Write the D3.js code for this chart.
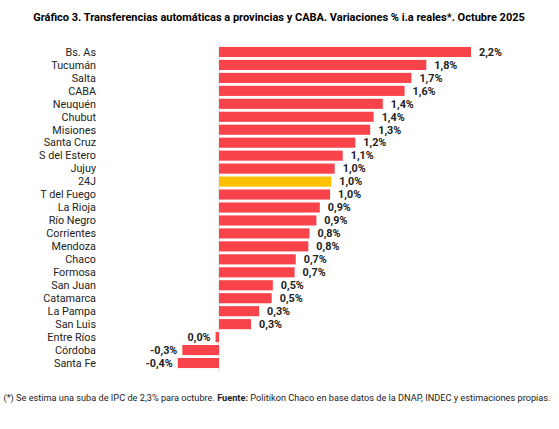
<!DOCTYPE html><html><head><meta charset="utf-8">
<script src="https://cdn.jsdelivr.net/npm/d3@7"></script>
<style>body{margin:0;background:#fff}text{font-family:Roboto,"Liberation Sans",sans-serif}</style></head><body>
<svg id="c" width="559" height="429"></svg>
<script>
const categories=["Bs. As","Tucumán","Salta","CABA","Neuquén","Chubut","Misiones","Santa Cruz","S del Estero","Jujuy","24J","T del Fuego","La Rioja","Río Negro","Corrientes","Mendoza","Chaco","Formosa","San Juan","Catamarca","La Pampa","San Luis","Entre Ríos","Córdoba","Santa Fe"];
const values=[2.2,1.81,1.68,1.62,1.43,1.35,1.32,1.19,1.08,1.01,0.98,0.97,0.88,0.85,0.79,0.78,0.67,0.66,0.47,0.46,0.35,0.28,-0.03,-0.32,-0.36];
const labels=["2,2%","1,8%","1,7%","1,6%","1,4%","1,4%","1,3%","1,2%","1,1%","1,0%","1,0%","1,0%","0,9%","0,9%","0,8%","0,8%","0,7%","0,7%","0,5%","0,5%","0,3%","0,3%","0,0%","-0,3%","-0,4%"];
const highlight="24J";
const svg=d3.select("#c");
const x=d3.scaleLinear().domain([0,2.2]).range([219,471]);
const y=d3.scaleBand().domain(categories).range([45.5,369.5]).paddingInner(0.22).paddingOuter(0.11);
svg.append("text").attr("x",279).attr("y",21).attr("text-anchor","middle").attr("font-size",11).attr("font-weight","bold").text("Gráfico 3. Transferencias automáticas a provincias y CABA. Variaciones % i.a reales*. Octubre 2025");
svg.append("line").attr("x1",x(0)).attr("x2",x(0)).attr("y1",43).attr("y2",372).attr("stroke","#ddd");
const data=categories.map((c,i)=>({c,v:values[i],l:labels[i]}));
svg.selectAll("rect.b").data(data).join("rect").attr("x",d=>x(Math.min(0,d.v))).attr("width",d=>Math.abs(x(d.v)-x(0))).attr("y",d=>y(d.c)).attr("height",y.bandwidth()).attr("fill",d=>d.c===highlight?"#FFC000":"#F8434A");
svg.selectAll("text.c").data(data).join("text").attr("x",96).attr("y",d=>y(d.c)+y.bandwidth()/2).attr("dy","0.35em").attr("text-anchor","end").attr("font-size",10.8).attr("fill","#222").text(d=>d.c);
svg.selectAll("text.v").data(data).join("text").attr("x",d=>d.v>=0?x(d.v)+8:x(d.v)-5).attr("y",d=>y(d.c)+y.bandwidth()/2).attr("dy","0.35em").attr("text-anchor",d=>d.v>=0?"start":"end").attr("font-size",10.8).attr("font-weight","bold").attr("fill","#222").text(d=>d.l);
const f=svg.append("text").attr("x",277).attr("y",401).attr("text-anchor","middle").attr("font-size",9.2).attr("fill","#222");
f.append("tspan").text("(*) Se estima una suba de IPC de 2,3% para octubre. ");
f.append("tspan").attr("font-weight","bold").text("Fuente:");
f.append("tspan").text(" Politikon Chaco en base datos de la DNAP, INDEC y estimaciones propias.");
</script></body></html>
